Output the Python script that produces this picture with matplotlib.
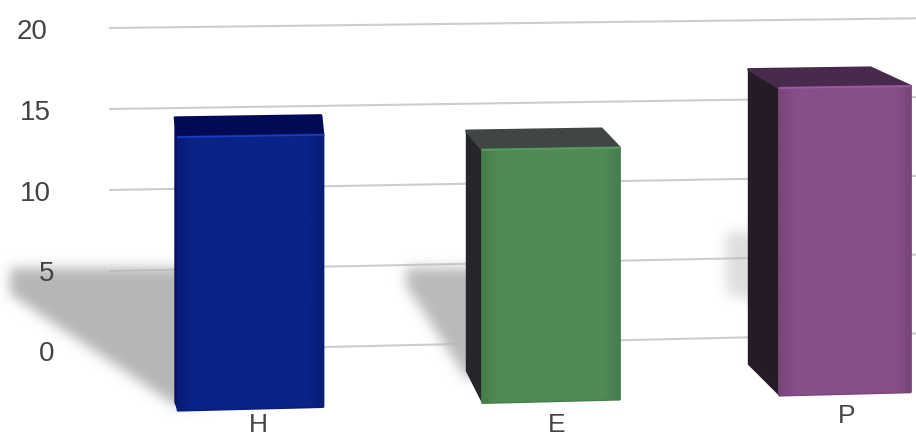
import numpy as np
import matplotlib
matplotlib.use('Agg')
import matplotlib.pyplot as plt
from matplotlib.patches import Polygon
from matplotlib.path import Path

plt.rcParams['font.family'] = ['Liberation Sans', 'DejaVu Sans']

categories = ['H', 'E', 'P']
values = [14.4, 13.3, 16.9]
y_ticks = [0, 5, 10, 15, 20]

# looks of the fake 3d bars, pixels unless noted
tick_right_px = [54, 54, 51, 51, 48]
tick_y_px = [354, 274, 194, 113, 32]
centers_px = [250.5, 551, 845]
front_width = [145, 137, 131]
side_px = [3, 16, 31]
back_right_px = [2, 18, 40]
side_floor_rise = [0.5, 2.0, 2.0]
top_colors = ['#030a55', '#3f4644', '#472a4c']
side_colors = ['#05105a', '#26252b', '#251b28']
front_edge = ['#081c78', '#467d4c', '#7a4578']
front_mid = ['#0a2388', '#508a56', '#874f8a']
highlight = ['#1a3cc0', '#5b9a61', '#a257a6']
shadow_reach = [165, 60, 22]
shadow_top_px = [268, 268, 232]
shadow_drop_px = [26, 18, 60]
shadow_bottom_px = [405, 378, 300]
shadow_strength = [1.0, 0.95, 0.45]
label_px = [(258, 425), (557, 425), (847, 416)]
floor = -3.7
depth = 1.2

W, H = 916, 438
PX_PER_X = 295.0
PX_PER_Y = 16.2


def to_x(px):
    return (px - 250) / PX_PER_X


def to_y(px):
    return (352 - px) / PX_PER_Y


def tilted(x, v):
    # gridlines fan out a little, the lower ones climb faster
    slope = 0.023 - 0.00055 * v
    return v + (x + 140 / PX_PER_X) * PX_PER_X * slope / PX_PER_Y


def front_gradient(ax, pts, edge, mid, zorder=4):
    pts = np.array(pts)
    c0 = np.array(matplotlib.colors.to_rgb(edge))
    c1 = np.array(matplotlib.colors.to_rgb(mid))
    t = np.clip(np.sin(np.linspace(0, np.pi, 64)) * 3, 0, 1)[None, :, None]
    img = c0[None, None, :] * (1 - t) + c1[None, None, :] * t
    extent = [pts[:, 0].min(), pts[:, 0].max(), pts[:, 1].min(), pts[:, 1].max()]
    im = ax.imshow(img, extent=extent, aspect='auto', zorder=zorder, interpolation='bilinear')
    im.set_clip_path(Polygon(pts, closed=True, transform=ax.transData))


def soft_shadow(ax, verts_px, strength, sigma=6, zorder=2):
    xx, yy = np.meshgrid(np.arange(W) + 0.5, np.arange(H) + 0.5)
    grid = np.column_stack([xx.ravel(), yy.ravel()])
    mask = Path(verts_px).contains_points(grid).reshape(H, W).astype(float)
    r = np.arange(-3 * sigma, 3 * sigma + 1)
    kernel = np.exp(-r ** 2 / (2 * sigma ** 2))
    kernel /= kernel.sum()
    for axis in (0, 1):
        mask = np.apply_along_axis(lambda row: np.convolve(row, kernel, mode='same'), axis, mask)
    img = np.zeros((H, W, 4))
    img[..., :3] = 0xb6 / 255
    img[..., 3] = mask * strength
    ax.imshow(img, extent=[to_x(0), to_x(W), to_y(H), to_y(0)], aspect='auto', zorder=zorder)


fig = plt.figure(figsize=(9.16, 4.38), dpi=100)
ax = fig.add_axes([0, 0, 1, 1])
ax.axis('off')

for i, tick in enumerate(y_ticks):
    xs = np.array([to_x(110), to_x(916)])
    ax.plot(xs, tilted(xs, tick), color='#cdcdcd', lw=1.5, zorder=1)
    ax.text(to_x(tick_right_px[i]), to_y(tick_y_px[i]), str(tick), ha='right', va='center',
            fontsize=20, color='#444444', zorder=6)

for i, name in enumerate(categories):
    x = to_x(centers_px[i])
    hw = front_width[i] / 2 / PX_PER_X
    side = side_px[i] / PX_PER_X
    back_r = back_right_px[i] / PX_PER_X
    top = values[i] - depth

    fl, fr = x - hw, x + hw
    bl, br = fl - side, fr - back_r
    front = [(fl, tilted(fl, floor)), (fr, tilted(fr, floor)), (fr, tilted(fr, top)), (fl, tilted(fl, top))]
    side_face = [(bl, tilted(bl, floor + side_floor_rise[i])), (fl, tilted(fl, floor)),
                 (fl, tilted(fl, top)), (bl, tilted(bl, values[i]))]
    top_face = [(bl, tilted(bl, values[i])), (br, tilted(br, values[i])),
                (fr, tilted(fr, top)), (fl, tilted(fl, top))]

    # blurred shadow left of the bar, runs on under the bar so the blur does not show there
    bl_px = centers_px[i] - front_width[i] / 2 - side_px[i]
    top_px = shadow_top_px[i]
    soft_shadow(ax, [(bl_px - shadow_reach[i], top_px), (bl_px + 30, top_px), (bl_px + 30, shadow_bottom_px[i]),
                     (bl_px, shadow_bottom_px[i]), (bl_px - shadow_reach[i], top_px + shadow_drop_px[i])],
                shadow_strength[i])

    ax.add_patch(Polygon(side_face, closed=True, fc=side_colors[i], ec=side_colors[i], lw=1, joinstyle='round', zorder=3))
    ax.add_patch(Polygon(top_face, closed=True, fc=top_colors[i], ec=top_colors[i], lw=2, joinstyle='round', zorder=3))
    ax.add_patch(Polygon(front, closed=True, fc=front_edge[i], ec=front_edge[i], lw=2, joinstyle='round', zorder=4))
    front_gradient(ax, front, front_edge[i], front_mid[i], zorder=4)
    ax.plot([fl, fr], [tilted(fl, top), tilted(fr, top)], color=highlight[i], lw=1.2, zorder=5)

    lx, ly = label_px[i]
    ax.text(to_x(lx), to_y(ly), name, ha='center', va='center', fontsize=19, color='#444444', zorder=6)

ax.set_xlim(to_x(0), to_x(W))
ax.set_ylim(to_y(H), to_y(0))

fig.savefig('out.png', dpi=100)
